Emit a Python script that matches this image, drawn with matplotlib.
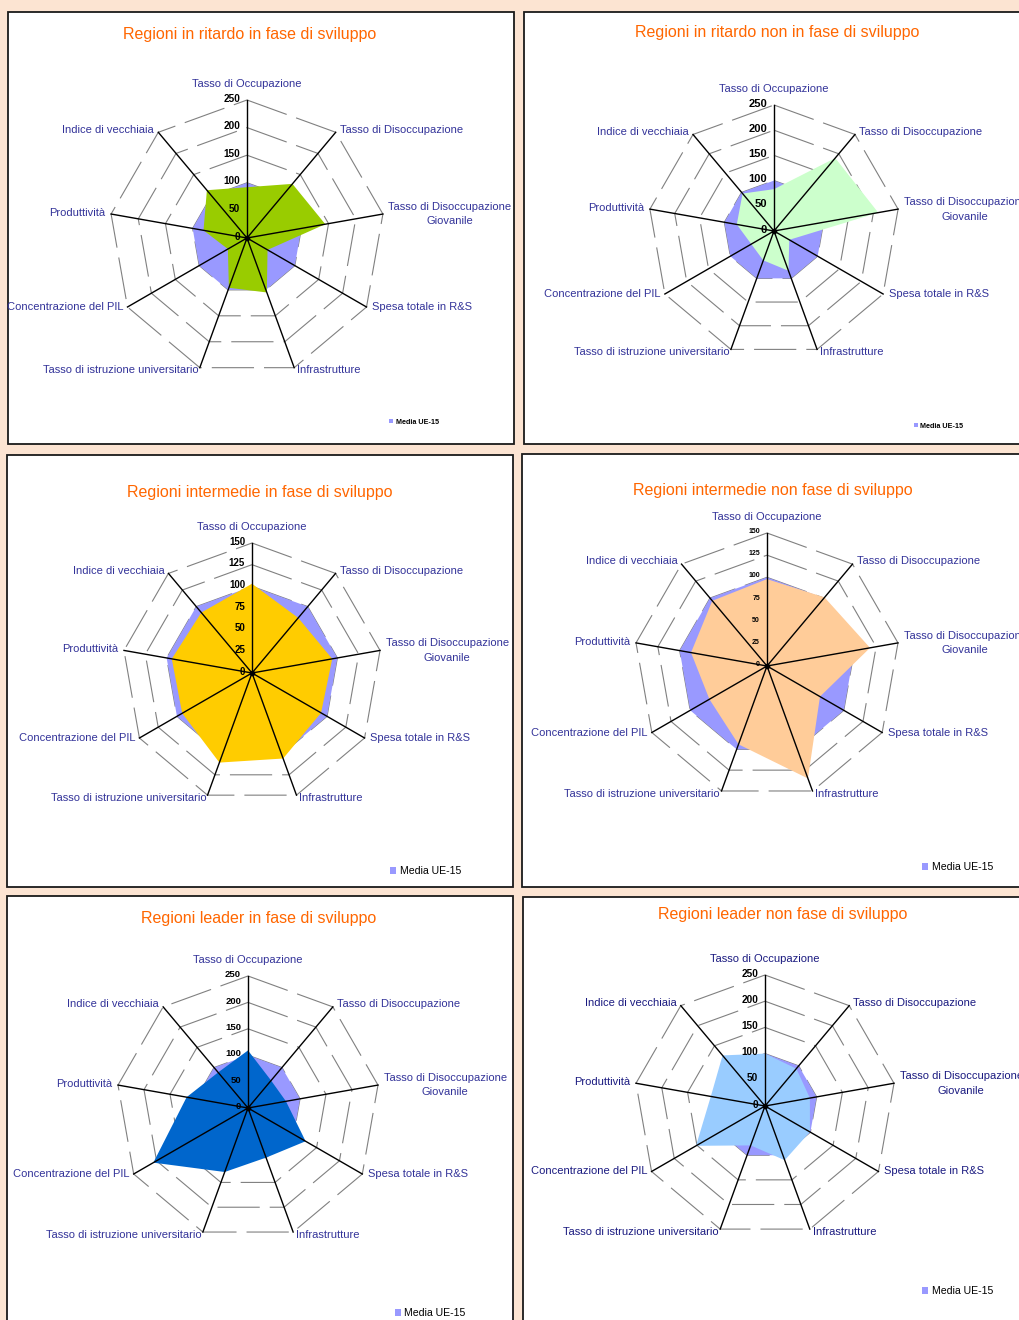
import numpy as np
import matplotlib
matplotlib.use('Agg')
import matplotlib.pyplot as plt
from matplotlib.patches import Rectangle

plt.rcParams['font.family'] = ['Liberation Sans', 'DejaVu Sans']

W, H = 1019, 1320

# --- dati ---
categorie = ['Tasso di Occupazione', 'Tasso di Disoccupazione',
             'Tasso di Disoccupazione\nGiovanile', 'Spesa totale in R&S',
             'Infrastrutture', 'Tasso di istruzione universitario',
             'Concentrazione del PIL', 'Produttività', 'Indice di vecchiaia']
media_ue15 = [100, 100, 100, 100, 100, 100, 100, 100, 100]

titoli = ['Regioni in ritardo in fase di sviluppo',
          'Regioni in ritardo non in fase di sviluppo',
          'Regioni intermedie in fase di sviluppo',
          'Regioni intermedie non fase di sviluppo',
          'Regioni leader in fase di sviluppo',
          'Regioni leader non fase di sviluppo']

ritardo_sviluppo = [92, 128, 144, 43, 105, 96, 40, 80, 113]
ritardo_non_sviluppo = [83, 189, 210, 35, 84, 62, 52, 75, 97]
intermedie_sviluppo = [103, 83, 94, 92, 105, 110, 93, 94, 91]
intermedie_non_sviluppo = [98, 101, 118, 69, 135, 94, 75, 87, 96]
leader_sviluppo = [109, 68, 73, 126, 100, 129, 207, 118, 88]
leader_non_sviluppo = [100, 93, 87, 99, 110, 80, 152, 105, 126]

tick_250 = [0, 50, 100, 150, 200, 250]
tick_150 = [0, 25, 50, 75, 100, 125, 150]

serie = [ritardo_sviluppo, ritardo_non_sviluppo, intermedie_sviluppo,
         intermedie_non_sviluppo, leader_sviluppo, leader_non_sviluppo]
scale = [tick_250, tick_250, tick_150, tick_150, tick_250, tick_250]
colori = ['#99CC00', '#CCFFCC', '#FFCC00', '#FFCC99', '#0066CC', '#99CCFF']

# --- layout (pixel) ---
riquadri = [(8, 12, 514, 444), (524, 12, 1030, 444),
            (7, 455, 513, 887), (522, 454, 1030, 887),
            (7, 896, 513, 1330), (523, 897, 1030, 1330)]
centri = [(247, 238, 138), (774, 231, 126), (252, 673, 130),
          (767, 666, 133), (248, 1108, 132), (765, 1106, 131)]
pos_titoli = [(250, 34), (777, 32), (260, 492), (773, 490), (259, 919), (783, 915)]
pos_legenda = [(389, 422), (914, 426), (390, 871), (922, 867), (395, 1313), (922, 1291)]
fs_tick = [7.2, 8.0, 7.0, 5.0, 6.8, 7.2]
fs_leg = [5.2, 5.2, 7.6, 7.6, 7.6, 7.6]
bold_leg = [True, True, False, False, False, False]
col_etichette = ['#333399', '#333399', '#333399', '#333399', '#333399', '#1a1a80']

# allineamento etichette assi: (ha, dx, dy) in punti
allinea = [('center', 0, 8), ('left', 3, 2), ('left', 4, 0), ('left', 4, 0),
           ('left', 2, -2), ('right', -1, -2), ('right', -3, 0),
           ('right', -4, 1), ('right', -3, 2)]

fig = plt.figure(figsize=(W / 100, H / 100), dpi=100, facecolor='#FCE4D2')

for x0, y0, x1, y1 in riquadri:
    fig.add_artist(Rectangle((x0 / W, 1 - y1 / H), (x1 - x0) / W, (y1 - y0) / H,
                             transform=fig.transFigure, facecolor='white',
                             edgecolor='#1a1a1a', lw=1.3, zorder=-1))


def radar(k):
    cx, cy, r = centri[k]
    ax = fig.add_axes([(cx - r) / W, 1 - (cy + r) / H, 2 * r / W, 2 * r / H],
                      projection='polar')
    ax.set_theta_zero_location('N')
    ax.set_theta_direction(-1)
    ticks = scale[k]
    rmax = ticks[-1]
    ax.set_ylim(0, rmax)
    ax.set_xticks([])
    ax.set_yticks([])
    ax.grid(False)
    ax.spines['polar'].set_visible(False)
    ax.patch.set_visible(False)

    n = len(categorie)
    ang = np.linspace(0, 2 * np.pi, n, endpoint=False)
    chiuso = np.append(ang, ang[0])

    for t in ticks[1:]:
        ax.plot(chiuso, [t] * (n + 1), color='#808080', lw=0.8,
                dashes=(38, 9), zorder=1, clip_on=False)
    ax.fill(chiuso, media_ue15 + media_ue15[:1], color='#9999FF', lw=0,
            zorder=2, label='Media UE-15')
    ax.fill(chiuso, serie[k] + serie[k][:1], color=colori[k], lw=0, zorder=3)
    for a in ang:
        ax.plot([a, a], [0, rmax], color='black', lw=1.0, zorder=4, clip_on=False)
    ax.plot([0], [0], 'o', color='black', ms=3, zorder=5, clip_on=False)

    for t in ticks:
        ax.annotate(str(t), xy=(0, t), xytext=(-5, 1), textcoords='offset points',
                    ha='right', va='center', fontsize=fs_tick[k],
                    fontweight='bold', color='black', zorder=6,
                    annotation_clip=False)

    for a, nome, (ha, dx, dy) in zip(ang, categorie, allinea):
        ax.annotate(nome, xy=(a, rmax), xytext=(dx, dy), textcoords='offset points',
                    ha=ha, va='bottom' if ha == 'center' else 'center',
                    multialignment='center', linespacing=1.6, fontsize=8,
                    color=col_etichette[k], annotation_clip=False)

    tx, ty = pos_titoli[k]
    fig.text(tx / W, 1 - ty / H, titoli[k], ha='center', va='center',
             color='#FF6600', fontsize=11.5)

    lx, ly = pos_legenda[k]
    ax.legend(loc='center left', bbox_to_anchor=(lx / W, 1 - ly / H),
              bbox_transform=fig.transFigure, frameon=False,
              prop={'size': fs_leg[k], 'weight': 'bold' if bold_leg[k] else 'normal'},
              handlelength=0.6, handleheight=0.6, handletextpad=0.3,
              borderpad=0, borderaxespad=0)


for k in range(len(serie)):
    radar(k)

fig.savefig('out.png', dpi=100)
